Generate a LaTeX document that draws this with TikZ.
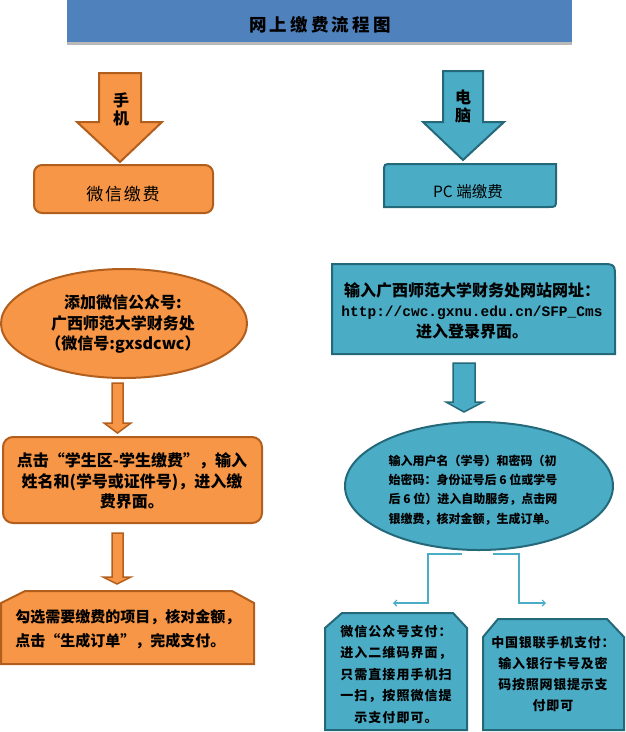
\documentclass[tikz,border=0pt]{standalone}
\usepackage{fontspec}
\setmainfont{Noto Sans CJK SC}
\newfontfamily\urlfont{Liberation Mono}
\usetikzlibrary{shapes.geometric,arrows.meta}

\definecolor{titleblue}{HTML}{4F81BD}
\definecolor{orfill}{HTML}{F79646}
\definecolor{ordraw}{HTML}{B25E1C}
\definecolor{tlfill}{HTML}{4BACC6}
\definecolor{tldraw}{HTML}{24697A}

\tikzset{
  orshape/.style={draw=ordraw, fill=orfill, line width=2pt},
  tlshape/.style={draw=tldraw, fill=tlfill, line width=2pt},
  txt/.style={inner sep=0pt, align=center, font=\bfseries\fontsize{16}{20.5}\selectfont},
  link/.style={draw=tlfill, line width=1.2pt, -{Straight Barb[length=3pt,width=6pt]}},
}

\begin{document}
\begin{tikzpicture}
% 1 unit = 1px of the 625x732 sheet, y runs down
[x=1pt,y=-1pt]
\useasboundingbox (0,0) rectangle (625,732);
% title bar with its grey shadow
\fill[gray!55] (67,40) rectangle (572,45);
\fill[titleblue] (67,0) rectangle (572,42);
\node[txt, font=\bfseries\fontsize{17.5}{20}\selectfont\addfontfeatures{LetterSpace=18}] (title) at (320,25) {网上缴费流程图};
% the two big block arrows
% 122 = head base, 162/160 = tip
\draw[orshape] (99,73) -- (141,73) -- (141,122) -- (162,122) -- (120,162) -- (77,122) -- (99,122) -- cycle;
\node[txt, font=\bfseries\fontsize{16}{18}\selectfont] (phone) at (121,109) {手\\机};
\draw[tlshape] (443,71) -- (483,71) -- (483,122) -- (504,122) -- (463,160) -- (423,122) -- (443,122) -- cycle;
\node[txt, font=\bfseries\fontsize{16}{18}\selectfont] (pc) at (463,107) {电\\脑};
% the two channel boxes
\node[orshape, rounded corners=8pt, minimum width=179pt, minimum height=48pt, inner sep=0pt] (wxbox) at (123.5,189) {};
\node[txt, font=\fontsize{17}{20}\selectfont\addfontfeatures{LetterSpace=10}] (wxtext) at (123,194) {微信缴费};
\draw[tlshape] (384,207) -- (384,172) .. controls (384,164) .. (392,164) -- (556,164) -- (556,199) .. controls (556,207) .. (548,207) -- cycle;
\node[txt, font=\fontsize{15.5}{18}\selectfont] (pctext) at (468,192) {PC 端缴费};
% left column (orange)
\node[orshape, ellipse, minimum width=246pt, minimum height=109pt, inner sep=0pt] (wxadd) at (124,323.5) {};
\node[txt] (wxaddtext) at (123,324) {添加微信公众号:\\广西师范大学财务处\\（微信号:gxsdcwc）};
\draw[orshape, line width=1.5pt] (112,383) -- (123,383) -- (123,423) -- (131,423) -- (117.5,433) -- (104,423) -- (112,423) -- cycle;
\node[orshape, rounded corners=10pt, minimum width=259pt, minimum height=86pt, inner sep=0pt] (wxentry) at (132.5,480) {};
\node[txt] (wxentrytext) at (132,481) {点击“学生区-学生缴费”，输入\\姓名和(学号或证件号)，进入缴\\费界面。};
\draw[orshape, line width=1.5pt] (112,533) -- (123,533) -- (123,577) -- (131,577) -- (117,584) -- (103,577) -- (112,577) -- cycle;
\draw[orshape] (1,603) -- (25,591) -- (232,591) -- (254,603) -- (254,664) -- (1,664) -- cycle;
\node[txt, align=left, font=\bfseries\fontsize{15}{24}\selectfont] (wxpaytext) at (128,629) {勾选需要缴费的项目，核对金额，\\点击“生成订单”，完成支付。};
% right column (blue)
\draw[tlshape] (332,264) -- (600,264) .. controls (615,264) .. (615,279) -- (615,354) -- (332,354) -- cycle;
\node[txt] (loginurl) at (472,310.5) {输入广西师范大学财务处网站网址：\\{\urlfont\bfseries\fontsize{14.5}{20.5}\selectfont http://cwc.gxnu.edu.cn/SFP\_Cms}\\进入登录界面。};
\draw[tlshape, line width=1.5pt] (453,363) -- (475,363) -- (475,402) -- (483,402) -- (464,412) -- (446,402) -- (453,402) -- cycle;
\node[tlshape, ellipse, minimum width=268pt, minimum height=128pt, inner sep=0pt] (login) at (479,486) {};
\node[txt, align=left, font=\bfseries\fontsize{12}{19.3}\selectfont] (logintext) at (473,490) {输入用户名（学号）和密码（初\\始密码：身份证号后 6 位或学号\\后 6 位）进入自助服务，点击网\\银缴费，核对金额，生成订单。};
% the two ways to pay
\coordinate (wxtip) at (393,603);
\coordinate (yltip) at (546,603);
\draw[link] ([xshift=-17pt,yshift=-3pt]login.south) -| (428,603) -- (wxtip);
\draw[link] ([xshift=14pt,yshift=-3pt]login.south) -| (519,603) -- (yltip);
\draw[tlshape] (325,628) -- (342,613) -- (453,613) -- (467,628) -- (467,730) -- (325,730) -- cycle;
\node[txt, font=\bfseries\fontsize{13}{21.5}\selectfont\addfontfeatures{LetterSpace=8}] (wxqr) at (396,674) {微信公众号支付：\\进入二维码界面，\\只需直接用手机扫\\一扫，按照微信提\\示支付即可。};
\draw[tlshape] (483,637) -- (498,619) -- (607,619) -- (624,637) -- (624,730) -- (483,730) -- cycle;
\node[txt, font=\bfseries\fontsize{13}{21}\selectfont\addfontfeatures{LetterSpace=6}] (unionpay) at (553,674.5) {中国银联手机支付：\\输入银行卡号及密\\码按照网银提示支\\付即可};
\end{tikzpicture}
\end{document}
